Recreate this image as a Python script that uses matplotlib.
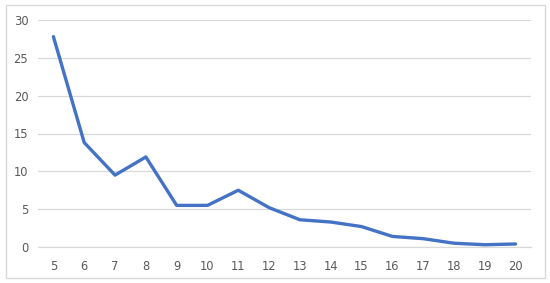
import matplotlib
matplotlib.use("Agg")
import matplotlib.pyplot as plt
from matplotlib.patches import Rectangle

categories = [5, 6, 7, 8, 9, 10, 11, 12, 13, 14, 15, 16, 17, 18, 19, 20]
values = [27.8, 13.8, 9.5, 11.9, 5.5, 5.5, 7.5, 5.2, 3.6, 3.3, 2.7, 1.4, 1.1, 0.5, 0.3, 0.4]
y_ticks = [0, 5, 10, 15, 20, 25, 30]

fig = plt.figure(figsize=(5.5, 2.83), dpi=100)
fig.patch.set_facecolor("white")
fig.patches.append(Rectangle((6/550, 5/283), 539/550, 273/283, transform=fig.transFigure,
                             fill=False, edgecolor="#D9D9D9", linewidth=1.0))

ax = fig.add_axes([38/550, 1 - 247/283, (531 - 38)/550, (247 - 20)/283])
x = list(range(len(categories)))
ax.plot(x, values, color="#4472C4", linewidth=2.4, solid_joinstyle="round", solid_capstyle="round", zorder=3)
ax.set_xlim(-0.5, len(categories) - 0.5)
ax.set_ylim(0, 30)
ax.set_yticks(y_ticks)
ax.set_xticks(x)
ax.set_xticklabels([str(c) for c in categories])
ax.yaxis.grid(True, color="#D9D9D9", linewidth=0.9)
ax.set_axisbelow(True)
for s in ["top", "right", "left"]:
    ax.spines[s].set_visible(False)
ax.spines["bottom"].set_color("#D9D9D9")
ax.spines["bottom"].set_linewidth(0.9)
ax.tick_params(axis="both", length=0, labelsize=8.3, labelcolor="#595959")
ax.tick_params(axis="y", pad=7)
ax.tick_params(axis="x", pad=9)

fig.savefig("out.png", dpi=100, facecolor="white")
